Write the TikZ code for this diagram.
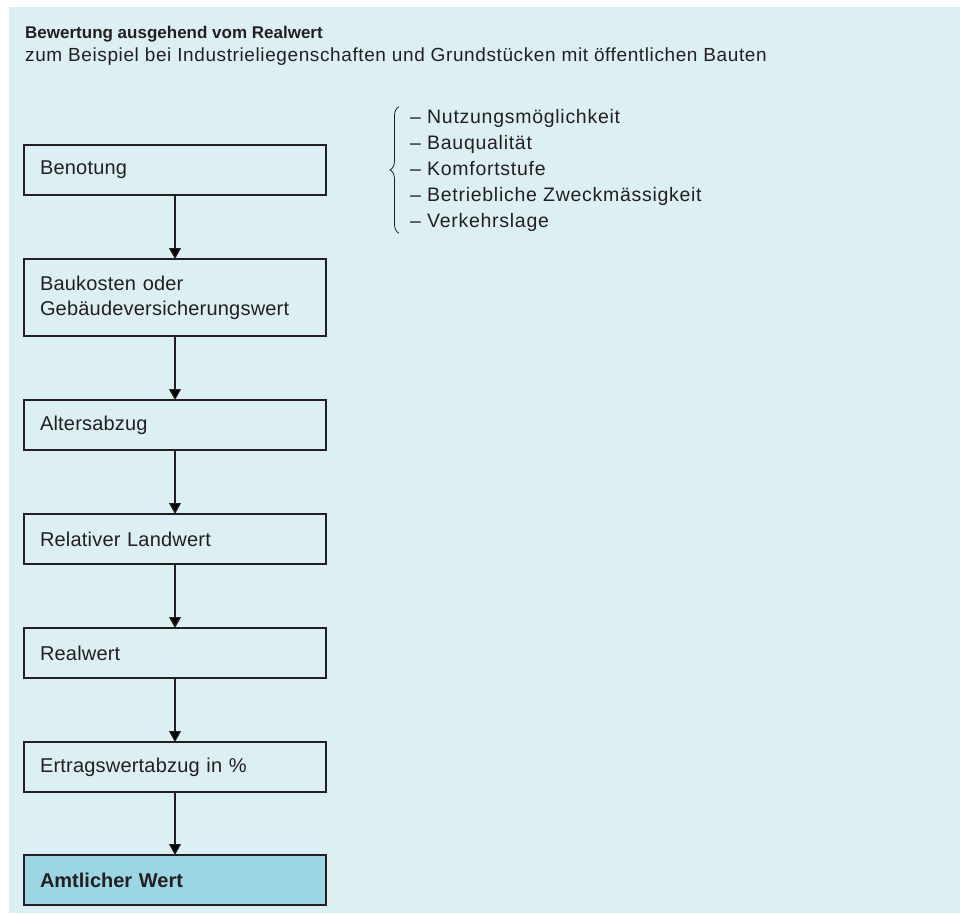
\documentclass[tikz,border=0pt]{standalone}
\usepackage{fontspec}
\setmainfont{Liberation Sans}
\usepackage{tikz}
\usetikzlibrary{positioning,arrows.meta,decorations.pathreplacing}

\definecolor{hintergrund}{RGB}{220,240,244}
\definecolor{endwert}{RGB}{155,215,227}
\definecolor{tinte}{RGB}{35,31,32}

\tikzset{
	stepbox/.style={draw=tinte,line width=1.5pt,outer sep=0pt,text=tinte,minimum height=50pt,text width=270pt,inner xsep=16pt,inner ysep=8pt,align=left,font=\fontsize{20}{25}\selectfont\addfontfeatures{LetterSpace=1}},
	flow/.style={draw=tinte,line width=1.2pt,-{Triangle[width=12pt,length=11pt]}},
	liste/.style={anchor=base west,inner sep=0pt,text=tinte,font=\fontsize{19.5}{26}\selectfont\addfontfeatures{LetterSpace=3.7}}
}

\begin{document}
\begin{tikzpicture}[x=1pt,y=1pt]
		\useasboundingbox (0,0) rectangle (960,-913);
		\fill[hintergrund] (9,-7) rectangle (960,-913);
		% Titel
		\node(titel) at (25,-38) [anchor=base west,inner sep=0pt,text=tinte,font=\fontsize{17}{20}\selectfont\bfseries] {Bewertung ausgehend vom Realwert};
		\node(untertitel) at (25,-61) [anchor=base west,inner sep=0pt,text=tinte,font=\fontsize{19}{20}\selectfont\addfontfeatures{LetterSpace=3.2}] {zum Beispiel bei Industrieliegenschaften und Grundstücken mit öffentlichen Bauten};
		% Ablauf
		\node(benotung) at (24,-145) [stepbox,anchor=north west] {Benotung};
		\node(baukosten) [below=64pt of benotung,stepbox,minimum height=77pt] {Baukosten oder\\Gebäudeversicherungswert};
		\node(alter) [below=64pt of baukosten,stepbox] {Altersabzug};
		\node(landwert) [below=64pt of alter,stepbox] {Relativer Landwert};
		\node(realwert) [below=64pt of landwert,stepbox] {Realwert};
		\node(ertrag) [below=64pt of realwert,stepbox] {Ertragswertabzug in \%};
		\node(amtlich) [below=63pt of ertrag,stepbox,fill=endwert,font=\fontsize{20}{25}\selectfont\bfseries] {Amtlicher Wert};
		\path[flow]
			(benotung) edge (baukosten)
			(baukosten) edge (alter)
			(alter) edge (landwert)
			(landwert) edge (realwert)
			(realwert) edge (ertrag)
			(ertrag) edge (amtlich);
		% Kriterien der Benotung
		\foreach \eintrag [count=\i] in {Nutzungsmöglichkeit,Bauqualität,Komfortstufe,Betriebliche Zweckmässigkeit,Verkehrslage}
			\node(k\i) at (410,{-123-26*(\i-1)}) [liste] {– \eintrag};
		\draw[tinte,line width=0.8pt,decorate,decoration={brace,amplitude=9pt}]
			([xshift=-11pt,yshift=-2pt]k5.south west) -- ([xshift=-11pt,yshift=2pt]k1.north west);
	\end{tikzpicture}
\end{document}
